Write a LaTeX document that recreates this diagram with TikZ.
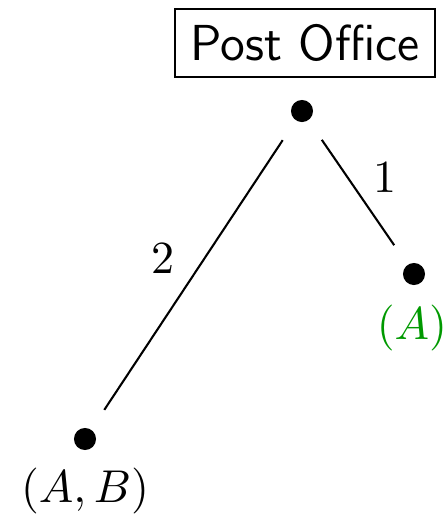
\documentclass[tikz,border=0pt]{standalone}
\begin{document}
\begin{tikzpicture}[x=0.2174pt,y=-0.2174pt,
  dot/.style={circle,fill=black,inner sep=0pt,minimum size=4.8pt},
  edge/.style={line width=0.45pt,shorten <=5pt,shorten >=5pt},
  elabel/.style={font=\normalsize},
  boxnode/.style={draw,line width=0.45pt,font=\sffamily\fontsize{11pt}{13pt}\selectfont}]
\useasboundingbox (0,0) rectangle (443,518);
\node[boxnode] (po) at (305,43) {Post Office};
\node[dot] (top) at (302,111) {};
\node[dot] (right) at (414,274) {};
\node[dot] (left) at (85,439) {};
\node[text=green!60!black] (la) at (412,328) {$(A)$};
\node (lab) at (85,491) {$(A,B)$};
\draw[edge] (top) -- (left);
\draw[edge] (top) -- (right);
\node[elabel] (n2) at (163,258) {2};
\node[elabel] (n1) at (385,177) {1};
\end{tikzpicture}
\end{document}
